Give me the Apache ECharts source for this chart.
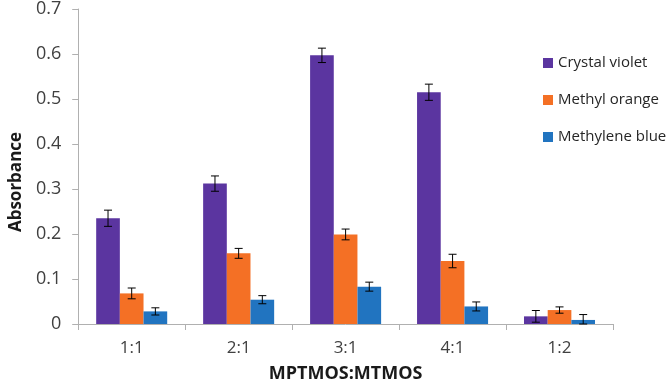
<!DOCTYPE html>
<html>
<head>
<meta charset="utf-8">
<script src="https://cdn.jsdelivr.net/npm/echarts@6/dist/echarts.min.js"></script>
<style>
html,body{margin:0;padding:0;background:#fff;}
#chart{width:672px;height:390px;}
</style>
</head>
<body>
<div id="chart"></div>
<script>
const categories = ['1:1', '2:1', '3:1', '4:1', '1:2'];
const seriesNames = ['Crystal violet', 'Methyl orange', 'Methylene blue'];
const crystalViolet = [0.235, 0.312, 0.597, 0.515, 0.017];
const methylOrange = [0.068, 0.157, 0.199, 0.140, 0.031];
const methyleneBlue = [0.028, 0.054, 0.083, 0.039, 0.009];
const crystalVioletErr = [0.018, 0.017, 0.016, 0.018, 0.013];
const methylOrangeErr = [0.012, 0.011, 0.012, 0.015, 0.007];
const methyleneBlueErr = [0.008, 0.009, 0.010, 0.010, 0.012];
const yTicks = [0, 0.1, 0.2, 0.3, 0.4, 0.5, 0.6, 0.7];

const colors = ['#5b35a0', '#f47025', '#2174c0'];
const values = [crystalViolet, methylOrange, methyleneBlue];
const errors = [crystalVioletErr, methylOrangeErr, methyleneBlueErr];
const catGap = 0.336;
const FONT = 'Open Sans';

const barSeries = seriesNames.map((name, k) => ({
  name: name,
  type: 'bar',
  data: values[k],
  itemStyle: { color: colors[k] },
  barGap: '0%',
  barCategoryGap: (catGap * 100) + '%',
  z: 2
}));

const errSeries = seriesNames.map((name, k) => ({
  name: name + ' error',
  type: 'custom',
  z: 5,
  data: values[k].map((v, i) => [i, v, errors[k][i]]),
  encode: { x: 0, y: 1 },
  renderItem: function (params, api) {
    const idx = api.value(0);
    const v = api.value(1);
    const e = api.value(2);
    const band = api.size([1, 0])[0];
    const barW = band * (1 - catGap) / 3;
    const cx = api.coord([idx, 0])[0] + (k - 1) * barW;
    const yTop = api.coord([idx, v + e])[1];
    const yBot = api.coord([idx, Math.max(v - e, 0)])[1];
    const cap = 4;
    const st = { stroke: '#000', lineWidth: 1 };
    return {
      type: 'group',
      children: [
        { type: 'line', shape: { x1: cx, y1: yTop, x2: cx, y2: yBot }, style: st },
        { type: 'line', shape: { x1: cx - cap, y1: yTop, x2: cx + cap, y2: yTop }, style: st },
        { type: 'line', shape: { x1: cx - cap, y1: yBot, x2: cx + cap, y2: yBot }, style: st }
      ]
    };
  }
}));

const chart = echarts.init(document.getElementById('chart'));
chart.setOption({
  animation: false,
  backgroundColor: '#fff',
  textStyle: { fontFamily: FONT },
  grid: { left: 71, right: 59, top: 5, bottom: 66, containLabel: false },
  legend: {
    data: seriesNames,
    orient: 'vertical',
    left: 538,
    top: 48,
    itemWidth: 10,
    itemHeight: 10,
    itemGap: 17,
    icon: 'rect',
    textStyle: { fontFamily: FONT, fontSize: 15, color: '#262626', lineHeight: 20 }
  },
  xAxis: {
    type: 'category',
    data: categories,
    name: 'MPTMOS:MTMOS',
    nameLocation: 'middle',
    nameGap: 41,
    nameTextStyle: { fontFamily: FONT, fontSize: 18, fontWeight: 'bold', color: '#1a1a1a' },
    axisLine: { lineStyle: { color: '#b0b0b0', width: 1 } },
    axisTick: { show: true, length: 6, lineStyle: { color: '#b0b0b0' } },
    axisLabel: { fontFamily: FONT, fontSize: 17, color: '#404040', margin: 16 },
    splitLine: { show: false }
  },
  yAxis: {
    type: 'value',
    min: 0,
    max: 0.7,
    interval: 0.1,
    name: 'Absorbance',
    nameLocation: 'middle',
    nameGap: 49,
    nameTextStyle: { fontFamily: FONT, fontSize: 17, fontWeight: 'bold', color: '#1a1a1a', padding: [0, 31, 0, 0] },
    axisLine: { show: true, lineStyle: { color: '#b0b0b0', width: 1 } },
    axisTick: { show: true, length: 6, lineStyle: { color: '#b0b0b0' } },
    axisLabel: {
      fontFamily: FONT, fontSize: 18, color: '#404040', margin: 17,
      formatter: function (val) {
        const t = yTicks.find(x => Math.abs(x - val) < 1e-9);
        return t === 0 ? '0' : (t !== undefined ? t.toFixed(1) : '');
      }
    },
    splitLine: { show: false }
  },
  series: barSeries.concat(errSeries)
});
</script>
</body>
</html>
